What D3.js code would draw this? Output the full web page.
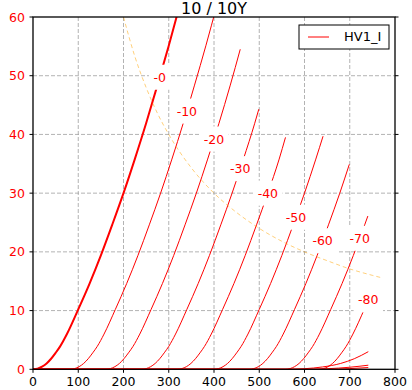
<!DOCTYPE html>
<html lang="en">
<head>
<meta charset="UTF-8">
<title>10 / 10Y</title>
<script src="https://d3js.org/d3.v7.min.js"></script>
<style>
  body { margin: 0; background: #fff; }
  svg { display: block; font-family: "DejaVu Sans", sans-serif; }
</style>
</head>
<body>
<svg width="412" height="390"></svg>
<script>
// plate curves: [plate volts, plate mA], one per grid voltage
const ia_0   = [[0,0],[10,0.12],[20,0.45],[30,1.0],[40,1.8],[50,2.8],[60,3.9],[75,6.0],[100,10.2],[125,14.6],[150,19.4],[175,24.6],[200,30],[225,35.8],[250,41.9],[275,48.4],[300,55.1],[325,62.2]];
const ia_10  = [[0,0],[82,0],[92,0.12],[102,0.45],[112,1.0],[122,1.8],[132,2.8],[142,3.9],[157,6.0],[182,10.2],[207,14.6],[232,19.4],[257,24.6],[282,30],[307,35.8],[332,41.9],[357,48.4],[382,55.1],[407,62.2]];
const ia_20  = [[0,0],[161,0],[171,0.12],[181,0.45],[191,1.0],[201,1.8],[211,2.8],[221,3.9],[236,6.0],[261,10.2],[286,14.6],[311,19.4],[336,24.6],[361,30],[386,35.8],[411,41.9],[436,48.4],[458,54.5]];
const ia_30  = [[0,0],[240,0],[250,0.12],[260,0.45],[270,1.0],[280,1.8],[290,2.8],[300,3.9],[315,6.0],[340,10.2],[365,14.6],[390,19.4],[415,24.6],[440,30],[465,35.8],[490,41.9],[499,44.3]];
const ia_40  = [[0,0],[319,0],[329,0.12],[339,0.45],[349,1.0],[359,1.8],[369,2.8],[379,3.9],[394,6.0],[419,10.2],[444,14.6],[469,19.4],[494,24.6],[519,30],[544,35.8],[558,39.5]];
const ia_50  = [[0,0],[400,0],[410,0.12],[420,0.45],[430,1.0],[440,1.8],[450,2.8],[460,3.9],[475,6.0],[500,10.2],[525,14.6],[550,19.4],[575,24.6],[600,30],[625,35.8],[641,39.7]];
const ia_60  = [[0,0],[478,0],[488,0.12],[498,0.45],[508,1.0],[518,1.8],[528,2.8],[538,3.9],[553,6.0],[578,10.2],[603,14.6],[628,19.4],[653,24.6],[678,30],[699,34.9]];
const ia_70  = [[0,0],[558,0],[568,0.12],[578,0.45],[588,1.0],[598,1.8],[608,2.8],[618,3.9],[633,6.0],[658,10.2],[683,14.6],[708,19.4],[733,24.6],[740,26.1]];
const ia_80  = [[0,0],[632,0],[642,0.12],[652,0.45],[662,1.0],[672,1.8],[682,2.8],[692,3.9],[707,6.0],[732,10.2],[742,12.0]];
const ia_90  = [[0,0],[560,0],[600,0.1],[640,0.4],[680,1.0],[710,1.8],[741,3.0]];
const ia_100 = [[0,0],[600,0],[650,0.1],[700,0.35],[741,0.7]];
const ia_110 = [[0,0],[640,0],[700,0.12],[741,0.3]];

// inline labels on the first nine curves
const gridLabels = ["-0","-10","-20","-30","-40","-50","-60","-70","-80"];
const labelV = [280, 340, 400, 458, 519, 581, 640, 722, 741];

// plate dissipation limit (dashed)
const pdV = [200,225,250,275,300,350,400,450,500,550,600,650,700,750,770];
const pdI = [60,53.3,48,43.6,40,34.3,30,26.7,24,21.8,20,18.5,17.1,16,15.6];

const xTicks = [0,100,200,300,400,500,600,700,800];
const yTicks = [0,10,20,30,40,50,60];

const curves = [ia_0, ia_10, ia_20, ia_30, ia_40, ia_50, ia_60, ia_70, ia_80, ia_90, ia_100, ia_110];

const svg = d3.select("svg");
const m = {left: 33, right: 395, top: 17, bottom: 369.3};

const x = d3.scaleLinear().domain([0, 800]).range([m.left, m.right]);
const y = d3.scaleLinear().domain([0, 60]).range([m.bottom, m.top]);

svg.append("clipPath").attr("id", "plot")
  .append("rect")
  .attr("x", m.left).attr("y", m.top)
  .attr("width", m.right - m.left).attr("height", m.bottom - m.top);

// grid
const grid = svg.append("g").attr("stroke", "#a0a0a0").attr("stroke-width", 0.8).attr("stroke-dasharray", "4,2");
grid.selectAll("line.vx").data(xTicks.slice(1, -1)).join("line").attr("class", "vx")
  .attr("x1", d => x(d)).attr("x2", d => x(d)).attr("y1", m.top).attr("y2", m.bottom);
grid.selectAll("line.hy").data(yTicks.slice(1, -1)).join("line").attr("class", "hy")
  .attr("y1", d => y(d)).attr("y2", d => y(d)).attr("x1", m.left).attr("x2", m.right);

const plot = svg.append("g").attr("clip-path", "url(#plot)");

const line = d3.line()
  .x(d => x(d[0]))
  .y(d => y(d[1]))
  .curve(d3.curveMonotoneX);

plot.selectAll("path.ia").data(curves).join("path")
  .attr("class", "ia")
  .attr("fill", "none")
  .attr("stroke", "red")
  .attr("stroke-width", (d, i) => i === 0 ? 2 : 1)
  .attr("d", line);

const pd = pdV.map((v, i) => [v, pdI[i]]);
plot.append("path")
  .attr("fill", "none")
  .attr("stroke", "orange")
  .attr("stroke-opacity", 0.65)
  .attr("stroke-width", 0.8)
  .attr("stroke-dasharray", "4,3")
  .attr("d", line(pd));

// current on a curve at a given plate voltage
function currentAt(pts, v) {
  for (let i = 1; i < pts.length; i++) {
    if (v <= pts[i][0]) {
      const [v0, i0] = pts[i - 1], [v1, i1] = pts[i];
      return i0 + (i1 - i0) * (v - v0) / (v1 - v0);
    }
  }
  return pts[pts.length - 1][1];
}

gridLabels.forEach((lab, i) => {
  const cx = x(labelV[i]);
  const cy = y(currentAt(curves[i], labelV[i]));
  const g = svg.append("g");
  const rect = g.append("rect").attr("fill", "white");
  const t = g.append("text")
    .attr("x", cx).attr("y", cy + 4.5)
    .attr("text-anchor", "middle")
    .attr("font-size", 12.5)
    .attr("fill", "red")
    .text(lab);
  const w = t.node().getComputedTextLength() + 9;
  rect.attr("x", cx - w / 2).attr("y", cy - 12.5).attr("width", w).attr("height", 25);
});

// spines
svg.append("rect")
  .attr("x", m.left).attr("y", m.top)
  .attr("width", m.right - m.left).attr("height", m.bottom - m.top)
  .attr("fill", "none").attr("stroke", "black").attr("stroke-width", 1.3);

// ticks
const ticks = svg.append("g").attr("stroke", "black").attr("stroke-width", 1);
ticks.selectAll("line.xt").data(xTicks).join("line").attr("class", "xt")
  .attr("x1", d => x(d)).attr("x2", d => x(d)).attr("y1", m.bottom).attr("y2", m.bottom + 3.5);
ticks.selectAll("line.yl").data(yTicks).join("line").attr("class", "yl")
  .attr("y1", d => y(d)).attr("y2", d => y(d)).attr("x1", m.left - 3.5).attr("x2", m.left);
ticks.selectAll("line.yr").data(yTicks).join("line").attr("class", "yr")
  .attr("y1", d => y(d)).attr("y2", d => y(d)).attr("x1", m.right).attr("x2", m.right + 3.5);

svg.append("g").selectAll("text").data(xTicks).join("text")
  .attr("x", d => x(d)).attr("y", 386)
  .attr("text-anchor", "middle")
  .attr("font-size", 12.5)
  .attr("fill", "black")
  .text(d => d);

svg.append("g").selectAll("text").data(yTicks).join("text")
  .attr("x", 25).attr("y", d => y(d) + 4.5)
  .attr("text-anchor", "end")
  .attr("font-size", 12.5)
  .attr("fill", "red")
  .text(d => d);

svg.append("text")
  .attr("x", (m.left + m.right) / 2).attr("y", 13.5)
  .attr("text-anchor", "middle")
  .attr("font-size", 16)
  .text("10 / 10Y");

// legend
const lg = svg.append("g");
lg.append("rect")
  .attr("x", 299).attr("y", 25).attr("width", 90).attr("height", 24)
  .attr("fill", "white").attr("stroke", "black").attr("stroke-width", 1);
lg.append("line")
  .attr("x1", 308).attr("x2", 329).attr("y1", 37).attr("y2", 37)
  .attr("stroke", "red").attr("stroke-width", 1);
lg.append("text")
  .attr("x", 344).attr("y", 41)
  .attr("font-size", 13)
  .text("HV1_I");
</script>
</body>
</html>
